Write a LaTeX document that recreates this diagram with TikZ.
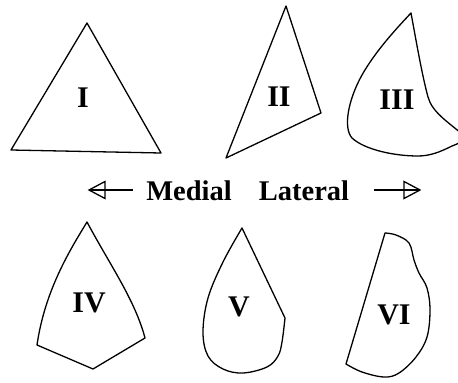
\documentclass[tikz,border=0pt]{standalone}
\usepackage{fontspec}
\setmainfont{Liberation Serif}
\begin{document}
\begin{tikzpicture}[x=1pt,y=-1pt,
  outl/.style={draw=black, line width=1.3pt, line join=round},
  lbl/.style={font=\fontsize{30}{32}\selectfont\bfseries, inner sep=0pt},
  word/.style={font=\fontsize{28.5}{30}\selectfont\bfseries, inner sep=0pt, anchor=base},
  arr/.style={line width=1.3pt, line join=miter}]
\useasboundingbox (0,0) rectangle (458,383);
\clip (0,0) rectangle (458,383);
% I
\draw[outl] (87,23) -- (161,153) -- (11,150) -- cycle;
\node[lbl] (n1) at (83,98) {I};
% II
\draw[outl] (286,6) -- (321,113) -- (226,158) -- cycle;
\node[lbl] (n2) at (279,97) {II};
% III
\draw[outl] (411,13) .. controls (416,40) and (422,75) .. (428,97)
  .. controls (432,112) and (448,122) .. (462,134)
  .. controls (466,140) and (460,143) .. (452,146)
  .. controls (440,152) and (430,156) .. (418,156)
  .. controls (395,156) and (365,150) .. (352,138)
  .. controls (343,128) and (348,100) .. (362,75)
  .. controls (375,52) and (395,30) .. (411,13) -- cycle;
\node[lbl] (n3) at (397,100) {III};
% Medial / Lateral
\node[word] (med) at (189,200) {Medial};
\node[word] (lat) at (304,200) {Lateral};
\coordinate (lt) at (89,190);
\coordinate (lb) at (133,190);
\coordinate (rt) at (420,190);
\coordinate (rb) at (374,190);
\draw[arr] (lb) -- (lt);
\draw[arr] (lt) -- ([shift={(16,-8.5)}]lt) -- ([shift={(16,8.5)}]lt) -- cycle;
\draw[arr] (rb) -- (rt);
\draw[arr] (rt) -- ([shift={(-16,-8.5)}]rt) -- ([shift={(-16,8.5)}]rt) -- cycle;
% IV
\draw[outl] (87,222) .. controls (70,250) and (45,290) .. (37,345)
  -- (93,369) -- (145,338)
  .. controls (135,300) and (110,265) .. (87,222) -- cycle;
\node[lbl] (n4) at (89,303) {IV};
% V
\draw[outl] plot[smooth, tension=0.6] coordinates {(285,318) (282,342) (278,356) (267,367) (243,373) (223,369) (208,356) (203,332) (208,298) (223,262) (242,228)} -- cycle;
\node[lbl] (n5) at (239,307) {V};
% VI
\draw[outl] plot[smooth, tension=0.6] coordinates {(385,233) (396,235) (409,243) (414,260) (419,273) (427,288) (430,310) (427,337) (416,357) (399,373) (384,377) (362,372) (346,364)} -- cycle;
\node[lbl] (n6) at (394,315) {VI};
\end{tikzpicture}
\end{document}
